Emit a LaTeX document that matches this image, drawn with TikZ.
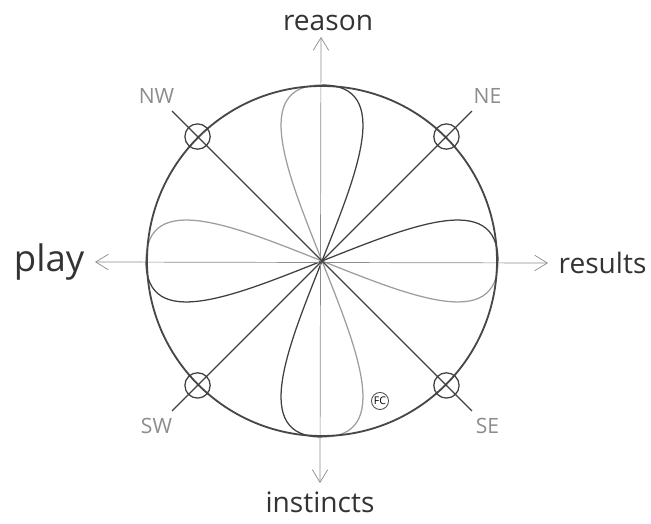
\documentclass[tikz,border=0pt]{standalone}
\usepackage{fontspec}
\setmainfont{Open Sans}
\usetikzlibrary{arrows.meta,positioning}

\begin{document}
\begin{tikzpicture}[x=0.025cm,y=0.025cm,>={Straight Barb[length=9pt,width=11pt]},
  rim/.style={black!72,line width=1.3pt},
  axis/.style={black!45,line width=0.5pt},
  diag/.style={black!75,line width=0.8pt},
  dark/.style={black!75,line width=0.9pt},
  light/.style={black!38,line width=0.9pt},
  ring/.style={circle,draw=black!75,line width=0.9pt,minimum size=18pt,inner sep=0pt},
  word/.style={text=black!80,font=\fontsize{20}{24}\selectfont},
  wind/.style={text=black!45,font=\fontsize{15}{17}\selectfont}]
  \useasboundingbox (-322,-263) rectangle (329,261);

  \coordinate (o) at (0,0);
  % four petals, each with a dark and a light half
  \foreach \a/\up/\dn in {0/dark/light,90/light/dark,180/dark/light,270/light/dark}{
    \draw[\up,rotate=\a] (0,0) .. controls (86,34) and (176,72) .. (176,0);
    \draw[\dn,rotate=\a] (0,0) .. controls (86,-34) and (176,-72) .. (176,0);
  }

  % axes
  \coordinate (upTip) at (-1,224);
  \coordinate (downTip) at (-2,-222);
  \coordinate (leftTip) at (-227,-1);
  \coordinate (rightTip) at (226,-2);
  \draw[axis,<->] (upTip) -- (downTip);
  \draw[axis,<->] (leftTip) -- (rightTip);

  \draw[rim] (o) circle[radius=175];

  % diagonals, small rings where they cross the rim
  \foreach \a/\n in {45/NE,135/NW,225/SW,315/SE}{
    \coordinate (\n-end) at (\a:212);
    \node[ring] (\n-ring) at (\a:176) {};
    \node[wind] (\n) at (\a:234) {\n};
  }
  \draw[diag] (NE-end) -- (SW-end);
  \draw[diag] (NW-end) -- (SE-end);

  \node[word,above=1pt of upTip,xshift=5pt] (reason) {reason};
  \node[word,below=3pt of downTip] (instincts) {instincts};
  \node[word,right=4pt of rightTip] (results) {results};
  \node[word,left=4pt of leftTip,font=\fontsize{26}{30}\selectfont] (play) {play};

  \node[circle,draw=black!70,line width=0.6pt,inner sep=0.7pt,
    font=\fontsize{7.5}{8}\selectfont] (fc) at (58,-140) {FC};
\end{tikzpicture}
\end{document}
